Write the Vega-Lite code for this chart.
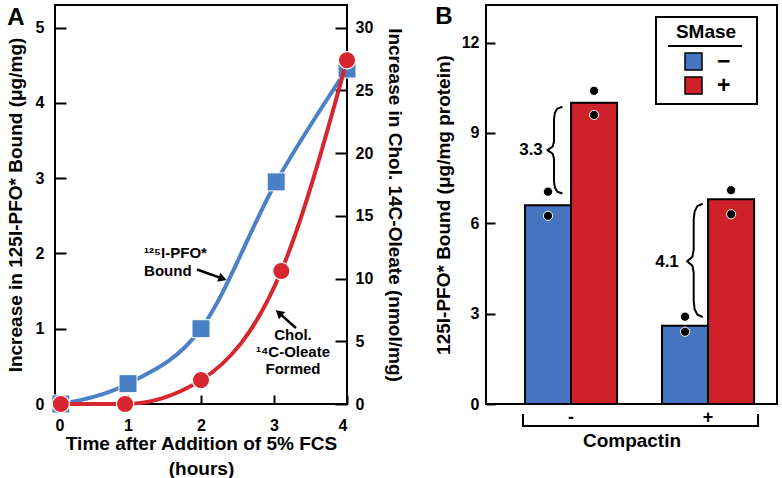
{
  "$schema": "https://vega.github.io/schema/vega-lite/v6.json",
  "padding": {"left": 5, "top": 3, "right": 2, "bottom": 0},
  "spacing": 28,
  "resolve": {"legend": {"fill": "independent"}},
  "datasets": {
    "pfo": [{"t": 0.08, "v": 0}, {"t": 1, "v": 0.27}, {"t": 2, "v": 1.0}, {"t": 3.03, "v": 2.95}, {"t": 4, "v": 4.45}],
    "oleate": [{"t": 0.08, "v": 0}, {"t": 0.96, "v": 0}, {"t": 2, "v": 1.9}, {"t": 3.1, "v": 10.6}, {"t": 4, "v": 27.4}],
    "notesLeft": [{"t": 1.22, "v": 2.0, "label": "¹²⁵I-PFO*"}, {"t": 1.22, "v": 1.77, "label": "Bound"}],
    "notesCenter": [{"t": 3.26, "v": 0.915, "label": "Chol."}, {"t": 3.26, "v": 0.69, "label": "¹⁴C-Oleate"}, {"t": 3.26, "v": 0.465, "label": "Formed"}],
    "panelA": [{"t": -0.534, "v": 5.13, "label": "A"}],
    "arrows": [{"id": 1, "t0": 1.945, "v0": 1.786, "t": 2.297, "v": 1.666}, {"id": 2, "t0": 3.3, "v0": 1.01, "t": 3.068, "v": 1.21}],
    "bars": [
      {"compactin": "-", "smase": "−", "v": 6.6},
      {"compactin": "-", "smase": "+", "v": 10.0},
      {"compactin": "+", "smase": "−", "v": 2.6},
      {"compactin": "+", "smase": "+", "v": 6.8}
    ],
    "dots": [
      {"compactin": "-", "smase": "−", "v": 7.05}, {"compactin": "-", "smase": "−", "v": 6.25},
      {"compactin": "-", "smase": "+", "v": 10.4}, {"compactin": "-", "smase": "+", "v": 9.6},
      {"compactin": "+", "smase": "−", "v": 2.9}, {"compactin": "+", "smase": "−", "v": 2.4},
      {"compactin": "+", "smase": "+", "v": 7.1}, {"compactin": "+", "smase": "+", "v": 6.3}
    ],
    "braces": [
      {"shape": "b1", "i": 1, "compactin": "-", "f": 0.406, "v": 9.87},
      {"shape": "b1", "i": 2, "compactin": "-", "f": 0.351, "v": 9.81},
      {"shape": "b1", "i": 3, "compactin": "-", "f": 0.324, "v": 9.67},
      {"shape": "b1", "i": 4, "compactin": "-", "f": 0.315, "v": 9.47},
      {"shape": "b1", "i": 5, "compactin": "-", "f": 0.315, "v": 8.72},
      {"shape": "b1", "i": 6, "compactin": "-", "f": 0.301, "v": 8.55},
      {"shape": "b1", "i": 7, "compactin": "-", "f": 0.243, "v": 8.43},
      {"shape": "b1", "i": 8, "compactin": "-", "f": 0.301, "v": 8.31},
      {"shape": "b1", "i": 9, "compactin": "-", "f": 0.315, "v": 8.14},
      {"shape": "b1", "i": 10, "compactin": "-", "f": 0.315, "v": 7.39},
      {"shape": "b1", "i": 11, "compactin": "-", "f": 0.324, "v": 7.19},
      {"shape": "b1", "i": 12, "compactin": "-", "f": 0.351, "v": 7.05},
      {"shape": "b1", "i": 13, "compactin": "-", "f": 0.406, "v": 6.99},
      {"shape": "b2", "i": 1, "compactin": "+", "f": 0.442, "v": 6.65},
      {"shape": "b2", "i": 2, "compactin": "+", "f": 0.383, "v": 6.57},
      {"shape": "b2", "i": 3, "compactin": "+", "f": 0.354, "v": 6.39},
      {"shape": "b2", "i": 4, "compactin": "+", "f": 0.344, "v": 6.12},
      {"shape": "b2", "i": 5, "compactin": "+", "f": 0.344, "v": 5.12},
      {"shape": "b2", "i": 6, "compactin": "+", "f": 0.33, "v": 4.89},
      {"shape": "b2", "i": 7, "compactin": "+", "f": 0.272, "v": 4.74},
      {"shape": "b2", "i": 8, "compactin": "+", "f": 0.33, "v": 4.59},
      {"shape": "b2", "i": 9, "compactin": "+", "f": 0.344, "v": 4.36},
      {"shape": "b2", "i": 10, "compactin": "+", "f": 0.344, "v": 3.42},
      {"shape": "b2", "i": 11, "compactin": "+", "f": 0.354, "v": 3.15},
      {"shape": "b2", "i": 12, "compactin": "+", "f": 0.383, "v": 2.97},
      {"shape": "b2", "i": 13, "compactin": "+", "f": 0.442, "v": 2.89}
    ],
    "bracket": [
      {"shape": "bracket", "i": 1, "compactin": "-", "f": -0.022, "v": -0.33},
      {"shape": "bracket", "i": 2, "compactin": "-", "f": -0.022, "v": -0.73},
      {"shape": "bracket", "i": 3, "compactin": "+", "f": 1.043, "v": -0.73},
      {"shape": "bracket", "i": 4, "compactin": "+", "f": 1.043, "v": -0.33},
      {"shape": "underline", "i": 1, "compactin": "+", "f": 0.065, "v": 11.89},
      {"shape": "underline", "i": 2, "compactin": "+", "f": 0.87, "v": 11.89}
    ],
    "bnotes": [{"compactin": "-", "f": 0.065, "v": 8.43, "label": "3.3"}, {"compactin": "+", "f": 0.054, "v": 4.72, "label": "4.1"}],
    "panelB": [{"compactin": "-", "f": -0.88, "v": 12.86, "label": "B"}]
  },
  "hconcat": [
    {
      "width": 292,
      "height": 399,
      "layer": [
        {
          "layer": [
            {
              "data": {"name": "pfo"},
              "mark": {"type": "line", "interpolate": "monotone", "stroke": "#4a80c6", "strokeWidth": 4},
              "encoding": {
                "x": {"field": "t", "type": "quantitative", "scale": {"domain": [0, 4], "nice": false, "zero": false},
                  "axis": {"title": ["Time after Addition of 5% FCS", "(hours)"], "values": [0, 1, 2, 3, 4], "format": "d", "tickSize": -9, "labelPadding": 22, "titlePadding": 1, "titleLineHeight": 25}},
                "y": {"field": "v", "type": "quantitative", "scale": {"domain": [0, 5.3], "nice": false, "zero": false},
                  "axis": {"title": "Increase in 125I-PFO* Bound (μg/mg)", "values": [0, 1, 2, 3, 4, 5], "format": "d", "tickSize": -11, "labelPadding": 22, "titlePadding": 10}}
              }
            },
            {
              "data": {"name": "pfo"},
              "mark": {"type": "point", "shape": "square", "filled": true, "fill": "#4a80c6", "stroke": "white", "strokeWidth": 1, "size": 324, "opacity": 1},
              "encoding": {
                "x": {"field": "t", "type": "quantitative", "scale": {"domain": [0, 4], "nice": false, "zero": false}},
                "y": {"field": "v", "type": "quantitative", "scale": {"domain": [0, 5.3], "nice": false, "zero": false}}
              }
            },
            {
              "data": {"name": "notesLeft"},
              "mark": {"type": "text", "align": "left", "baseline": "middle", "fontSize": 15, "fontWeight": "bold", "font": "Liberation Sans", "color": "black"},
              "encoding": {
                "x": {"field": "t", "type": "quantitative", "scale": {"domain": [0, 4], "nice": false, "zero": false}},
                "y": {"field": "v", "type": "quantitative", "scale": {"domain": [0, 5.3], "nice": false, "zero": false}},
                "text": {"field": "label"}
              }
            },
            {
              "data": {"name": "notesCenter"},
              "mark": {"type": "text", "align": "center", "baseline": "middle", "fontSize": 15, "fontWeight": "bold", "font": "Liberation Sans", "color": "black"},
              "encoding": {
                "x": {"field": "t", "type": "quantitative", "scale": {"domain": [0, 4], "nice": false, "zero": false}},
                "y": {"field": "v", "type": "quantitative", "scale": {"domain": [0, 5.3], "nice": false, "zero": false}},
                "text": {"field": "label"}
              }
            },
            {
              "data": {"name": "panelA"},
              "mark": {"type": "text", "align": "center", "baseline": "middle", "fontSize": 24, "fontWeight": "bold", "font": "Liberation Sans", "color": "black"},
              "encoding": {
                "x": {"field": "t", "type": "quantitative", "scale": {"domain": [0, 4], "nice": false, "zero": false}},
                "y": {"field": "v", "type": "quantitative", "scale": {"domain": [0, 5.3], "nice": false, "zero": false}},
                "text": {"field": "label"}
              }
            },
            {
              "data": {"name": "arrows"},
              "mark": {"type": "rule", "stroke": "black", "strokeWidth": 2.5},
              "encoding": {
                "x": {"field": "t0", "type": "quantitative", "scale": {"domain": [0, 4], "nice": false, "zero": false}},
                "y": {"field": "v0", "type": "quantitative", "scale": {"domain": [0, 5.3], "nice": false, "zero": false}},
                "x2": {"field": "t"},
                "y2": {"field": "v"}
              }
            },
            {
              "data": {"name": "arrows"},
              "transform": [{"filter": "datum.id == 1"}],
              "mark": {"type": "point", "shape": "triangle-right", "filled": true, "fill": "black", "size": 90, "angle": 19, "opacity": 1},
              "encoding": {
                "x": {"field": "t", "type": "quantitative", "scale": {"domain": [0, 4], "nice": false, "zero": false}},
                "y": {"field": "v", "type": "quantitative", "scale": {"domain": [0, 5.3], "nice": false, "zero": false}}
              }
            },
            {
              "data": {"name": "arrows"},
              "transform": [{"filter": "datum.id == 2"}],
              "mark": {"type": "point", "shape": "triangle-right", "filled": true, "fill": "black", "size": 90, "angle": 221, "opacity": 1},
              "encoding": {
                "x": {"field": "t", "type": "quantitative", "scale": {"domain": [0, 4], "nice": false, "zero": false}},
                "y": {"field": "v", "type": "quantitative", "scale": {"domain": [0, 5.3], "nice": false, "zero": false}}
              }
            }
          ]
        },
        {
          "layer": [
            {
              "data": {"name": "oleate"},
              "mark": {"type": "line", "interpolate": "monotone", "stroke": "#d62630", "strokeWidth": 4},
              "encoding": {
                "x": {"field": "t", "type": "quantitative", "scale": {"domain": [0, 4], "nice": false, "zero": false}},
                "y": {"field": "v", "type": "quantitative", "scale": {"domain": [0, 31.8], "nice": false, "zero": false},
                  "axis": {"orient": "right", "title": "Increase in Chol. 14C-Oleate (nmol/mg)", "values": [0, 5, 10, 15, 20, 25, 30], "tickSize": -12, "labelPadding": 20, "titlePadding": 12}}
              }
            },
            {
              "data": {"name": "oleate"},
              "mark": {"type": "point", "shape": "circle", "filled": true, "fill": "#d62630", "stroke": "white", "strokeWidth": 1.2, "size": 300, "opacity": 1},
              "encoding": {
                "x": {"field": "t", "type": "quantitative", "scale": {"domain": [0, 4], "nice": false, "zero": false}},
                "y": {"field": "v", "type": "quantitative", "scale": {"domain": [0, 31.8], "nice": false, "zero": false}}
              }
            }
          ]
        }
      ],
      "resolve": {"scale": {"y": "independent"}}
    },
    {
      "width": 291,
      "height": 399,
      "layer": [
        {
          "data": {"name": "bars"},
          "mark": {"type": "bar", "stroke": "black", "strokeWidth": 2},
          "encoding": {
            "x": {"field": "compactin", "type": "nominal", "sort": ["-", "+"],
              "scale": {"paddingInner": 0.328, "paddingOuter": 0.226, "align": 0.63},
              "axis": {"title": "Compactin", "labelAngle": 0, "ticks": false, "tickSize": 0, "labelPadding": 4, "labelFontSize": 18, "titlePadding": 5}},
            "xOffset": {"field": "smase", "type": "nominal", "sort": ["−", "+"], "scale": {"paddingInner": 0, "paddingOuter": 0}},
            "y": {"field": "v", "type": "quantitative", "scale": {"domain": [0, 13.25], "nice": false, "zero": false},
              "axis": {"title": "125I-PFO* Bound (μg/mg protein)", "values": [0, 3, 6, 9, 12], "tickSize": -9, "labelPadding": 16, "titlePadding": 8}},
            "fill": {"field": "smase", "type": "nominal", "scale": {"domain": ["−", "+"], "range": ["#4674c0", "#cf2129"]},
              "legend": {"title": "\u2800SMase\u2800", "orient": "none", "legendX": 170, "legendY": 12,
                "symbolType": "square", "symbolSize": 289, "symbolStrokeColor": "black", "symbolStrokeWidth": 1.5, "symbolOpacity": 1,
                "labelFontSize": 23, "labelFont": "Liberation Sans", "labelFontWeight": "bold", "labelColor": "black", "labelOffset": 12,
                "titleFontSize": 19, "titleFont": "Liberation Sans", "titleFontWeight": "bold", "titleColor": "black",
                "titleAlign": "center", "titleAnchor": "middle", "titlePadding": 8,
                "padding": 6, "strokeColor": "black", "rowPadding": 0, "symbolOffset": 0,
                "encode": {"legend": {"update": {"strokeWidth": {"value": 2}}}}}}
          }
        },
        {
          "data": {"name": "dots"},
          "mark": {"type": "point", "shape": "circle", "filled": true, "fill": "black", "stroke": "white", "strokeWidth": 1, "size": 85, "opacity": 1},
          "encoding": {
            "x": {"field": "compactin", "type": "nominal", "sort": ["-", "+"]},
            "xOffset": {"field": "smase", "type": "nominal", "sort": ["−", "+"], "scale": {"type": "point", "padding": 0.5}},
            "y": {"field": "v", "type": "quantitative", "scale": {"domain": [0, 13.25], "nice": false, "zero": false}}
          }
        },
        {
          "data": {"name": "braces"},
          "mark": {"type": "line", "stroke": "black", "strokeWidth": 2, "strokeJoin": "round"},
          "encoding": {
            "x": {"field": "compactin", "type": "nominal", "sort": ["-", "+"]},
            "xOffset": {"field": "f", "type": "quantitative", "scale": {"domain": [0, 1], "nice": false, "zero": false}},
            "y": {"field": "v", "type": "quantitative", "scale": {"domain": [0, 13.25], "nice": false, "zero": false}},
            "detail": {"field": "shape"},
            "order": {"field": "i", "type": "quantitative"}
          }
        },
        {
          "data": {"name": "bracket"},
          "mark": {"type": "line", "stroke": "black", "strokeWidth": 2, "strokeJoin": "miter"},
          "encoding": {
            "x": {"field": "compactin", "type": "nominal", "sort": ["-", "+"]},
            "xOffset": {"field": "f", "type": "quantitative", "scale": {"domain": [0, 1], "nice": false, "zero": false}},
            "y": {"field": "v", "type": "quantitative", "scale": {"domain": [0, 13.25], "nice": false, "zero": false}},
            "detail": {"field": "shape"},
            "order": {"field": "i", "type": "quantitative"}
          }
        },
        {
          "data": {"name": "bnotes"},
          "mark": {"type": "text", "align": "center", "baseline": "middle", "fontSize": 17, "fontWeight": "bold", "font": "Liberation Sans", "color": "black"},
          "encoding": {
            "x": {"field": "compactin", "type": "nominal", "sort": ["-", "+"]},
            "xOffset": {"field": "f", "type": "quantitative", "scale": {"domain": [0, 1], "nice": false, "zero": false}},
            "y": {"field": "v", "type": "quantitative", "scale": {"domain": [0, 13.25], "nice": false, "zero": false}},
            "text": {"field": "label"}
          }
        },
        {
          "data": {"name": "panelB"},
          "mark": {"type": "text", "align": "center", "baseline": "middle", "fontSize": 24, "fontWeight": "bold", "font": "Liberation Sans", "color": "black"},
          "encoding": {
            "x": {"field": "compactin", "type": "nominal", "sort": ["-", "+"]},
            "xOffset": {"field": "f", "type": "quantitative", "scale": {"domain": [0, 1], "nice": false, "zero": false}},
            "y": {"field": "v", "type": "quantitative", "scale": {"domain": [0, 13.25], "nice": false, "zero": false}},
            "text": {"field": "label"}
          }
        }
      ],
      "resolve": {"scale": {"xOffset": "independent"}}
    }
  ],
  "config": {
    "font": "Liberation Sans",
    "background": "white",
    "view": {"stroke": "black", "strokeWidth": 2},
    "axis": {
      "domain": false, "grid": false,
      "labelFont": "Liberation Sans", "labelFontWeight": "bold", "labelFontSize": 16, "labelColor": "black",
      "titleFont": "Liberation Sans", "titleFontWeight": "bold", "titleFontSize": 19, "titleColor": "black",
      "tickColor": "black", "tickWidth": 2
    },
    "text": {"font": "Liberation Sans", "fontWeight": "bold"}
  }
}
